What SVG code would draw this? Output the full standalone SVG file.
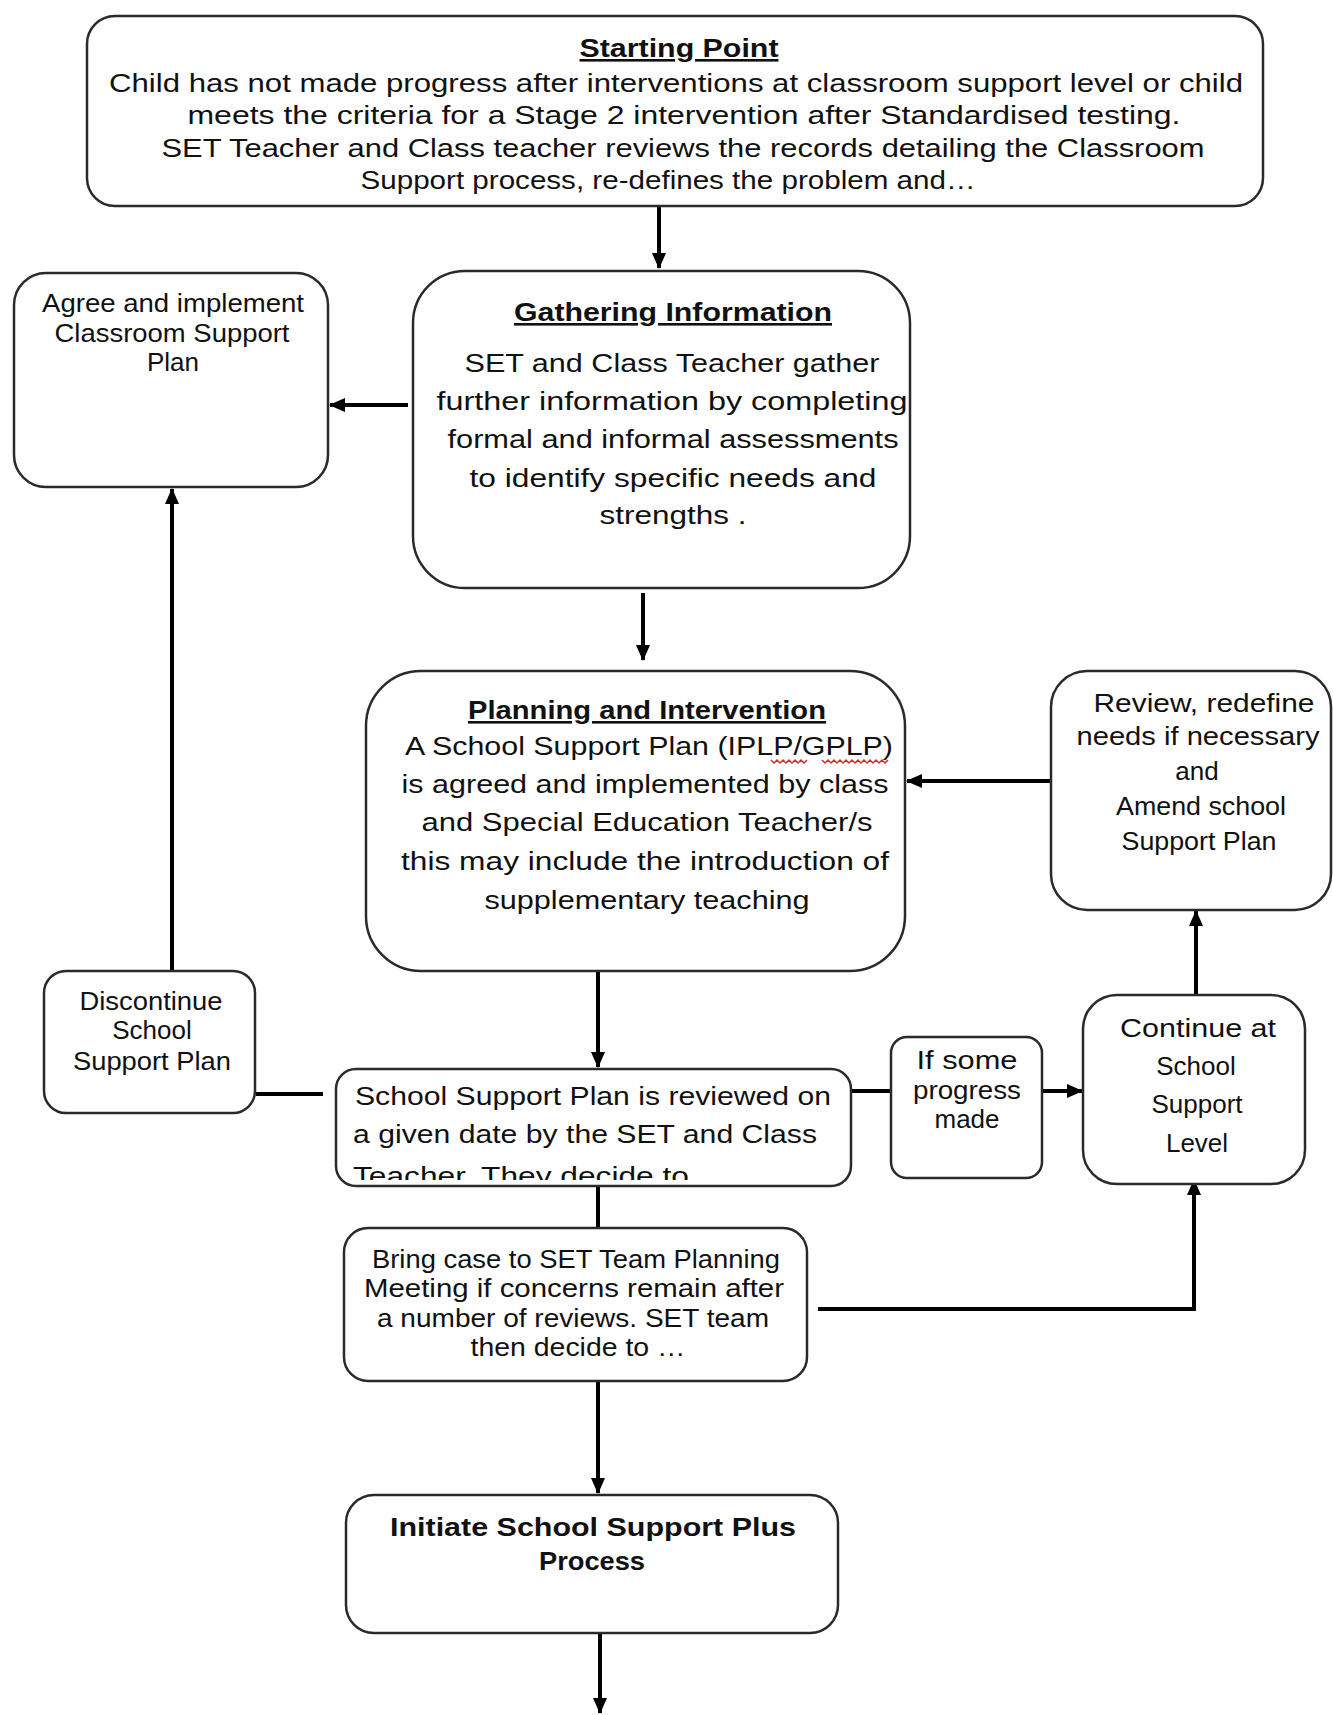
<svg xmlns="http://www.w3.org/2000/svg" width="1333" height="1715" viewBox="0 0 1333 1715">
<style>
.box{fill:#fff;stroke:#2a2a2a;stroke-width:2.5}
.t{font-family:"Liberation Sans",Arial,sans-serif;font-size:26px;fill:#111;text-anchor:middle}
.h{font-weight:bold;text-decoration:underline}
.b{font-weight:bold}
.l{text-anchor:start}
.c{fill:none;stroke:#000;stroke-width:4}
</style>
<defs>
<marker id="ah" viewBox="0 0 16 14" refX="15" refY="7" markerWidth="16" markerHeight="14" markerUnits="userSpaceOnUse" orient="auto">
<path d="M0,0 L16,7 L0,14 z" fill="#000"/>
</marker>
<clipPath id="clipSSP"><rect x="336" y="1069" width="515" height="111"/></clipPath>
</defs>

<g id="connectors">
<line class="c" x1="659" y1="207" x2="659" y2="268" marker-end="url(#ah)"/>
<line class="c" x1="408" y1="405" x2="330" y2="405" marker-end="url(#ah)"/>
<line class="c" x1="643" y1="593" x2="643" y2="660" marker-end="url(#ah)"/>
<line class="c" x1="1052" y1="781" x2="907" y2="781" marker-end="url(#ah)"/>
<line class="c" x1="598" y1="972" x2="598" y2="1067" marker-end="url(#ah)"/>
<line class="c" x1="323" y1="1094" x2="256" y2="1094"/>
<line class="c" x1="172" y1="970" x2="172" y2="489" marker-end="url(#ah)"/>
<line class="c" x1="851" y1="1091" x2="891" y2="1091"/>
<line class="c" x1="1042" y1="1091" x2="1082" y2="1091" marker-end="url(#ah)"/>
<line class="c" x1="1196" y1="995" x2="1196" y2="911" marker-end="url(#ah)"/>
<line class="c" x1="598" y1="1186" x2="598" y2="1228"/>
<polyline class="c" points="818,1309 1194,1309 1194,1180" marker-end="url(#ah)"/>
<line class="c" x1="598" y1="1381" x2="598" y2="1493" marker-end="url(#ah)"/>
<line class="c" x1="600" y1="1628" x2="600" y2="1713" marker-end="url(#ah)"/>
</g>

<g id="starting-point">
<rect class="box" x="87" y="16" width="1176" height="190" rx="28"/>
<text class="t h" x="679" y="57" textLength="199" lengthAdjust="spacingAndGlyphs">Starting Point</text>
<text class="t" x="676" y="92" textLength="1134" lengthAdjust="spacingAndGlyphs">Child has not made progress after interventions at classroom support level or child</text>
<text class="t" x="684" y="124" textLength="993" lengthAdjust="spacingAndGlyphs">meets the criteria for a Stage 2 intervention after Standardised testing.</text>
<text class="t" x="683" y="157" textLength="1043" lengthAdjust="spacingAndGlyphs">SET Teacher and Class teacher reviews the records detailing the Classroom</text>
<text class="t" x="668" y="189" textLength="615" lengthAdjust="spacingAndGlyphs">Support process, re-defines the problem and…</text>
</g>

<g id="classroom-support">
<rect class="box" x="14" y="273" width="314" height="214" rx="32"/>
<text class="t" x="173" y="312" font-size="24" textLength="262" lengthAdjust="spacingAndGlyphs">Agree and implement</text>
<text class="t" x="172" y="342" font-size="24" textLength="235" lengthAdjust="spacingAndGlyphs">Classroom Support</text>
<text class="t" x="173" y="371" font-size="24">Plan</text>
</g>

<g id="gathering-information">
<rect class="box" x="413" y="271" width="497" height="317" rx="52"/>
<text class="t h" x="673" y="321" font-size="27" textLength="318" lengthAdjust="spacingAndGlyphs">Gathering Information</text>
<text class="t" x="672" y="372" font-size="28" textLength="415" lengthAdjust="spacingAndGlyphs">SET and Class Teacher gather</text>
<text class="t" x="672" y="410" font-size="28" textLength="471" lengthAdjust="spacingAndGlyphs">further information by completing</text>
<text class="t" x="673" y="448" font-size="28" textLength="451" lengthAdjust="spacingAndGlyphs">formal and informal assessments</text>
<text class="t" x="673" y="487" font-size="28" textLength="407" lengthAdjust="spacingAndGlyphs">to identify specific needs and</text>
<text class="t" x="673" y="524" font-size="28" textLength="147" lengthAdjust="spacingAndGlyphs">strengths .</text>
</g>

<g id="planning-intervention">
<rect class="box" x="366" y="671" width="539" height="300" rx="55"/>
<text class="t h" x="647" y="719" font-size="27" textLength="358" lengthAdjust="spacingAndGlyphs">Planning and Intervention</text>
<text class="t" x="649" y="755" font-size="28" textLength="488" lengthAdjust="spacingAndGlyphs">A School Support Plan  (IPLP/GPLP)</text>
<path d="M771,760 l3,3 l3,-3 l3,3 l3,-3 l3,3 l3,-3 l3,3 l3,-3 l3,3 l3,-3 l3,3 l3,-3 M822,760 l3,3 l3,-3 l3,3 l3,-3 l3,3 l3,-3 l3,3 l3,-3 l3,3 l3,-3 l3,3 l3,-3 l3,3 l3,-3 l3,3 l3,-3 l3,3 l3,-3 l3,3 l3,-3 l3,3 l3,-3" fill="none" stroke="#d03030" stroke-width="1.5"/>
<text class="t" x="645" y="793" font-size="28" textLength="487" lengthAdjust="spacingAndGlyphs">is agreed and implemented by class</text>
<text class="t" x="647" y="831" font-size="28" textLength="451" lengthAdjust="spacingAndGlyphs">and Special Education Teacher/s</text>
<text class="t" x="645" y="870" font-size="28" textLength="488" lengthAdjust="spacingAndGlyphs">this may include the introduction of</text>
<text class="t" x="647" y="909" font-size="28" textLength="325" lengthAdjust="spacingAndGlyphs">supplementary teaching</text>
</g>

<g id="review-redefine">
<rect class="box" x="1051" y="671" width="280" height="239" rx="36"/>
<text class="t" x="1204" y="712" font-size="25" textLength="221" lengthAdjust="spacingAndGlyphs">Review, redefine</text>
<text class="t" x="1198" y="745" font-size="25" textLength="243" lengthAdjust="spacingAndGlyphs">needs if necessary</text>
<text class="t" x="1197" y="780" font-size="25">and</text>
<text class="t" x="1201" y="815" font-size="25" textLength="170" lengthAdjust="spacingAndGlyphs">Amend school</text>
<text class="t" x="1199" y="850" font-size="25" textLength="155" lengthAdjust="spacingAndGlyphs">Support Plan</text>
</g>

<g id="discontinue">
<rect class="box" x="44" y="971" width="211" height="142" rx="22"/>
<text class="t" x="151" y="1010" font-size="24" textLength="143" lengthAdjust="spacingAndGlyphs">Discontinue</text>
<text class="t" x="152" y="1039" font-size="24">School</text>
<text class="t" x="152" y="1070" font-size="24" textLength="158" lengthAdjust="spacingAndGlyphs">Support Plan</text>
</g>

<g id="plan-reviewed">
<rect class="box" x="336" y="1069" width="515" height="117" rx="20"/>
<g clip-path="url(#clipSSP)">
<text class="t l" x="355" y="1105" font-size="27" textLength="476" lengthAdjust="spacingAndGlyphs">School Support Plan is reviewed on</text>
<text class="t l" x="353" y="1143" font-size="27" textLength="464" lengthAdjust="spacingAndGlyphs">a given date by the SET and Class</text>
<text class="t l" x="353" y="1185" font-size="27" textLength="336" lengthAdjust="spacingAndGlyphs">Teacher. They decide to</text>
</g>
</g>

<g id="some-progress">
<rect class="box" x="891" y="1037" width="151" height="141" rx="16"/>
<text class="t" x="967" y="1069" font-size="23" textLength="101" lengthAdjust="spacingAndGlyphs">If some</text>
<text class="t" x="967" y="1099" font-size="23" textLength="108" lengthAdjust="spacingAndGlyphs">progress</text>
<text class="t" x="967" y="1128" font-size="23">made</text>
</g>

<g id="continue-school-support">
<rect class="box" x="1083" y="995" width="222" height="189" rx="34"/>
<text class="t" x="1198" y="1037" font-size="27" textLength="156" lengthAdjust="spacingAndGlyphs">Continue at</text>
<text class="t" x="1196" y="1075" font-size="27">School</text>
<text class="t" x="1197" y="1113" font-size="27">Support</text>
<text class="t" x="1197" y="1152" font-size="27">Level</text>
</g>

<g id="set-team-planning">
<rect class="box" x="344" y="1228" width="463" height="153" rx="24"/>
<text class="t" x="576" y="1268" font-size="24" textLength="408" lengthAdjust="spacingAndGlyphs">Bring case to SET Team Planning</text>
<text class="t" x="574" y="1297" font-size="24" textLength="420" lengthAdjust="spacingAndGlyphs">Meeting if concerns remain after</text>
<text class="t" x="573" y="1327" font-size="24" textLength="392" lengthAdjust="spacingAndGlyphs">a number of reviews. SET team</text>
<text class="t" x="578" y="1356" font-size="24" textLength="215" lengthAdjust="spacingAndGlyphs">then decide to …</text>
</g>

<g id="school-support-plus">
<rect class="box" x="346" y="1495" width="492" height="138" rx="28"/>
<text class="t b" x="593" y="1536" font-size="25" textLength="406" lengthAdjust="spacingAndGlyphs">Initiate School Support Plus</text>
<text class="t b" x="592" y="1570" font-size="25" textLength="106" lengthAdjust="spacingAndGlyphs">Process</text>
</g>
</svg>
